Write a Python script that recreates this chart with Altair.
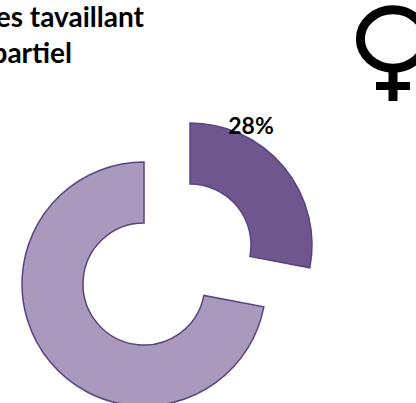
import altair as alt
import pandas as pd

# Doughnut shares, in percent
parts = ["temps partiel", "autres"]
shares = [28, 72]
colors = ["#6F568F", "#A899BD"]
centers_x = [190, 144]
centers_y = [245, 284]

title_lines = ["Femmes tavaillant", "à temps partiel"]
title_right = [144, 72]
title_base = [27, 63]

starts = [sum(shares[:i]) for i in range(len(shares))]
ends = [s + v for s, v in zip(starts, shares)]

slices = pd.DataFrame({
    "part": parts, "share": shares, "start": starts, "end": ends,
    "cx": centers_x, "cy": centers_y,
})

# Each slice is pulled away from the ring centre, so it has its own centre
ring = alt.Chart(slices).mark_arc(
    outerRadius=122, innerRadius=61, stroke="#5A4380", strokeWidth=1.5
).encode(
    theta=alt.Theta("start:Q", scale=alt.Scale(domain=[0, 100], range=[0, 6.28318530718])),
    theta2="end:Q",
    x=alt.X("cx:Q", scale=None),
    y=alt.Y("cy:Q", scale=None),
    color=alt.Color("part:N", scale=alt.Scale(domain=parts, range=colors), legend=None),
)

value_label = alt.Chart(pd.DataFrame({"t": ["28%"]})).mark_text(
    font="Lato", fontWeight="bold", fontSize=23, color="#000000", align="center", baseline="middle"
).encode(x=alt.value(251), y=alt.value(127), text="t:N")

title = alt.Chart(pd.DataFrame({"t": title_lines, "x": title_right, "y": title_base})).mark_text(
    font="Lato", fontWeight="bold", fontSize=28, color="#000000", align="right", baseline="alphabetic"
).encode(x=alt.X("x:Q", scale=None), y=alt.Y("y:Q", scale=None), text="t:N")

# Venus sign: elliptical ring (four cubic segments), stem and crossbar
ellipse_path = (
    "M -1.23 0 C -1.23 -0.607 -0.679 -1.1 0 -1.1 C 0.679 -1.1 1.23 -0.607 1.23 0 "
    "C 1.23 0.607 0.679 1.1 0 1.1 C -0.679 1.1 -1.23 0.607 -1.23 0 Z"
)
venus_ring = alt.Chart(pd.DataFrame({"s": ["ring"]})).mark_point(
    shape=ellipse_path,
    size=2809, filled=False, stroke="#000000", strokeWidth=9, opacity=1,
).encode(x=alt.value(393), y=alt.value(39))

venus_stem = alt.Chart(pd.DataFrame({"s": ["stem"]})).mark_rule(
    color="#000000", strokeWidth=9
).encode(x=alt.value(393), y=alt.value(68), y2=alt.value(101))

venus_bar = alt.Chart(pd.DataFrame({"s": ["bar"]})).mark_rule(
    color="#000000", strokeWidth=8
).encode(x=alt.value(376), x2=alt.value(410), y=alt.value(86))

chart = alt.layer(ring, title, value_label, venus_ring, venus_stem, venus_bar).properties(
    width=416, height=403, padding=0, autosize=alt.AutoSizeParams(type="none"), background="#FFFFFF"
).configure_view(stroke=None)

chart.save("out.html", embed_options={"renderer": "svg", "actions": False})
